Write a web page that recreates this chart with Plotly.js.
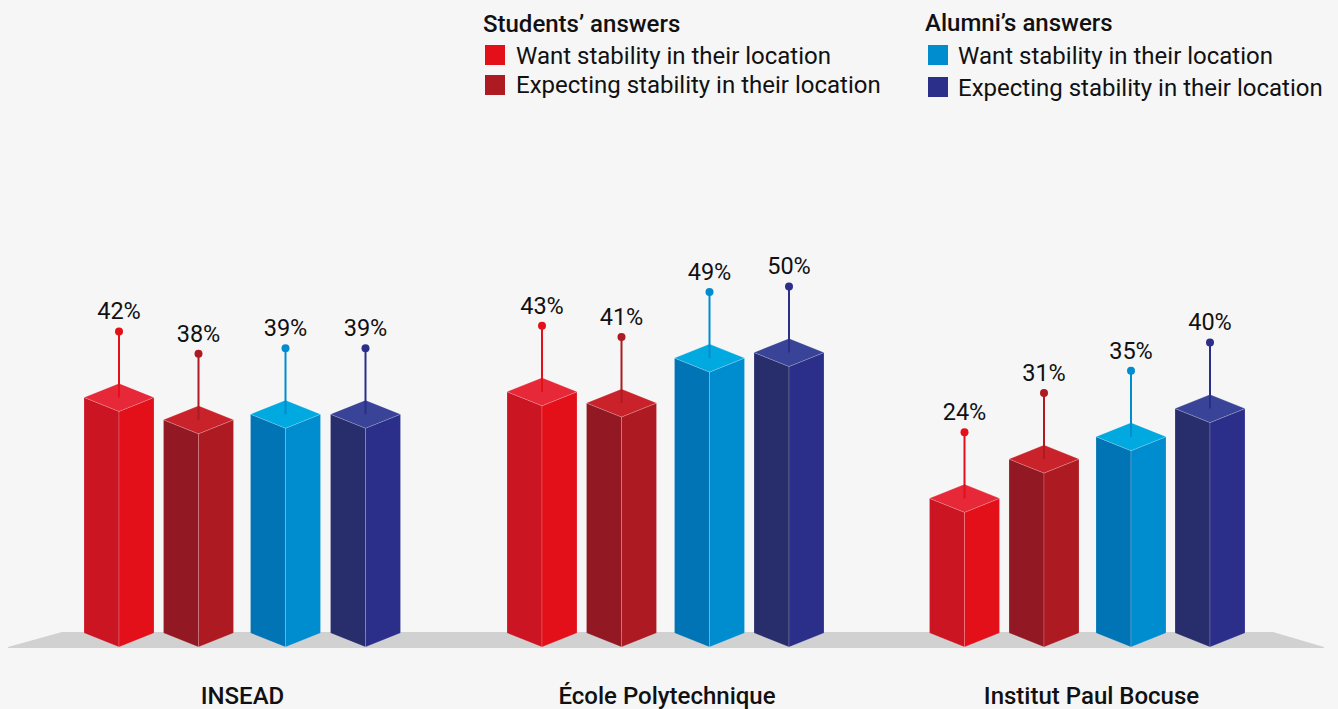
<!DOCTYPE html>
<html><head><meta charset="utf-8">
<script src="https://cdn.plot.ly/plotly-3.0.1.min.js"></script>
<style>html,body{margin:0;padding:0;background:#f6f6f6}#c{width:1338px;height:709px}</style>
</head><body><div id="c"></div>
<script>
// ---- data ----
const groups = ["INSEAD", "École Polytechnique", "Institut Paul Bocuse"];
const studentsWant = [42, 43, 24];
const studentsExpect = [38, 41, 31];
const alumniWant = [39, 49, 35];
const alumniExpect = [39, 50, 40];
const legendStudentsTitle = "Students’ answers";
const legendAlumniTitle = "Alumni’s answers";
const legendWant = "Want stability in their location";
const legendExpect = "Expecting stability in their location";

// ---- layout constants ----
const W = 1338, H = 709, MB = 40;
const PXU = 5.61, ZERO = 647;            // pixels per percent, pixel row of value 0
const val = py => (ZERO - py) / PXU;     // pixel row -> axis value
const barX = [[119, 198.5, 285.5, 365.5], [542, 621.5, 709.5, 789], [964.5, 1044, 1131, 1210]];
const groupLabelX = [242.5, 667, 1091.5];
const HALF = 35, DEPTH = 14 / PXU, DOT = 80 / PXU, LABEL = 98 / PXU;
const FONT = "Roboto, sans-serif";
const EDGE = "rgba(255,255,255,0.22)";

const series = [
  {vals: studentsWant,   left:"#cb1522", right:"#e31019", top:"#e62838", stem:"#e31019"},
  {vals: studentsExpect, left:"#921923", right:"#ad1a21", top:"#c9222a", stem:"#ad1a21"},
  {vals: alumniWant,     left:"#0174b5", right:"#008dd0", top:"#00a9df", stem:"#008dd0"},
  {vals: alumniExpect,   left:"#282e6c", right:"#2b2f89", top:"#394397", stem:"#2b2f89"}
];

const traces = [];
// floor
traces.push({type:"scatter", mode:"lines", x:[8,62,1273,1324,1324,8,8],
  y:[val(647),val(632),val(632),val(647),val(648),val(648),val(647)],
  fill:"toself", fillcolor:"#d1d1d1", line:{width:0}, hoverinfo:"skip", showlegend:false});

function face(xs, ys, color, name){
  return {type:"scatter", mode:"lines", x:xs, y:ys, fill:"toself", fillcolor:color,
    line:{color:EDGE, width:0.8}, name:name, hoverinfo:"skip", showlegend:false};
}
series.forEach((s, si) => {
  const lx=[], ly=[], rx=[], ry=[], tx=[], ty=[], sx=[], sy=[], cx=[], dy=[], ly2=[];
  s.vals.forEach((v, gi) => {
    const c = barX[gi][si];
    lx.push(c-HALF, c, c, c-HALF, c-HALF, null);
    ly.push(DEPTH, 0, v, v+DEPTH, DEPTH, null);
    rx.push(c, c+HALF, c+HALF, c, c, null);
    ry.push(0, DEPTH, v+DEPTH, v, 0, null);
    tx.push(c-HALF, c, c+HALF, c, c-HALF, null);
    ty.push(v+DEPTH, v, v+DEPTH, v+2*DEPTH, v+DEPTH, null);
    sx.push(c, c, null);
    sy.push(v+DEPTH, v+DOT, null);
    cx.push(c); dy.push(v+DOT); ly2.push(v+LABEL);
  });
  traces.push(face(lx, ly, s.left, "left"));
  traces.push(face(rx, ry, s.right, "right"));
  traces.push(face(tx, ty, s.top, "top"));
  traces.push({type:"scatter", mode:"lines", x:sx, y:sy, line:{color:s.stem, width:2},
    hoverinfo:"skip", showlegend:false});
  traces.push({type:"scatter", mode:"markers", x:cx, y:dy, marker:{color:s.stem, size:8},
    hoverinfo:"skip", showlegend:false});
  traces.push({type:"scatter", mode:"text", x:cx, y:ly2, text:s.vals.map(v => v + "%"),
    textposition:"middle center", textfont:{family:FONT, size:23.5, color:"#111"},
    hoverinfo:"skip", showlegend:false});
});

// legend swatches
traces.push({type:"scatter", mode:"markers",
  x:[495, 495, 938, 938], y:[val(55), val(85), val(55), val(87)],
  marker:{symbol:"square", size:20, color:[series[0].right, series[1].right, series[2].right, series[3].right], line:{width:0}},
  hoverinfo:"skip", showlegend:false});

function note(x, py, text, size, weight){
  return {x:x, y:val(py), xref:"x", yref:"y", text:text, showarrow:false, xanchor:"left", yanchor:"middle",
    xshift:0, font:{family:FONT, size:size, color:"#111", weight:weight}};
}
const annotations = [
  note(481, 24, legendStudentsTitle, 24, 500),
  note(514, 56, legendWant, 24, 400),
  note(514, 85, legendExpect, 24, 400),
  note(923, 23, legendAlumniTitle, 24, 500),
  note(956, 56, legendWant, 24, 400),
  note(956, 88, legendExpect, 24, 400)
];

const layout = {
  width:W, height:H, margin:{l:0,r:0,t:0,b:MB,pad:0},
  paper_bgcolor:"#f6f6f6", plot_bgcolor:"#f6f6f6", showlegend:false, hovermode:false,
  xaxis:{range:[0,W], showgrid:false, zeroline:false, showline:false, ticks:"", fixedrange:true,
    tickmode:"array", tickvals:groupLabelX, ticktext:groups, automargin:false, ticklabelstandoff:10,
    tickfont:{family:FONT, size:24, color:"#111", weight:500}},
  yaxis:{range:[val(H-MB), val(0)], visible:false, fixedrange:true},
  annotations:annotations
};
Plotly.newPlot("c", traces, layout, {displayModeBar:false, responsive:false});
</script></body></html>
